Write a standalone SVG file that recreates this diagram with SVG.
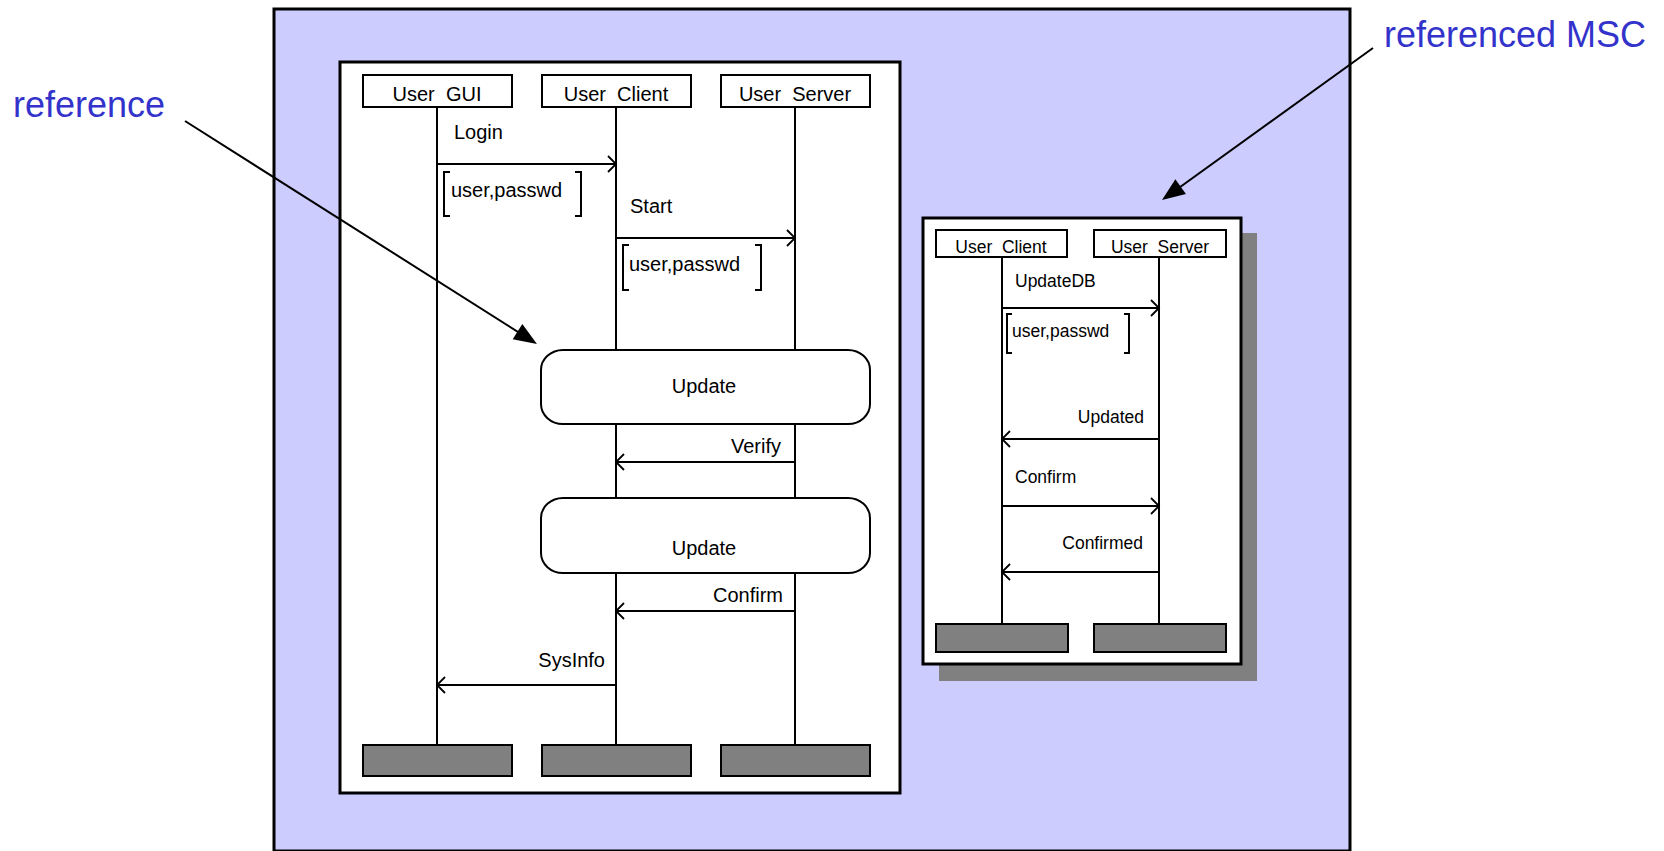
<svg xmlns="http://www.w3.org/2000/svg" width="1664" height="851" viewBox="0 0 1664 851">
<style>
.frame{fill:#fff;stroke:#000;stroke-width:3}
.head{fill:#fff;stroke:#000;stroke-width:2}
.end{fill:#808080;stroke:#000;stroke-width:2}
.life{stroke:#000;stroke-width:2;fill:none}
.msg{stroke:#000;stroke-width:2;fill:none;marker-end:url(#open)}
.br{stroke:#000;stroke-width:2;fill:none}
.t{font-family:"Liberation Sans",Arial,sans-serif;font-size:20px;fill:#000}
.ts{font-family:"Liberation Sans",Arial,sans-serif;font-size:17.5px;fill:#000}
.hd{white-space:pre}
.lbl{font-family:"Liberation Sans",Arial,sans-serif;font-size:36px;fill:#3333CC}
.ptr{stroke:#000;stroke-width:2;fill:none;marker-end:url(#solid)}
</style>
<defs>
<marker id="open" markerUnits="userSpaceOnUse" markerWidth="20" markerHeight="20" viewBox="-10 -10 20 20" refX="0" refY="0" orient="auto" overflow="visible">
<path d="M-8,-8 L0,0 L-8,8" fill="none" stroke="#000" stroke-width="1.8"/>
</marker>
<marker id="solid" markerUnits="userSpaceOnUse" markerWidth="40" markerHeight="40" viewBox="-20 -20 40 40" refX="0" refY="0" orient="auto" overflow="visible">
<path d="M10,0 L-13,-9 L-13,9 Z" fill="#000"/>
</marker>
</defs>
<g id="background">
<rect x="274" y="9" width="1076" height="842" fill="#CCCCFF" stroke="#000" stroke-width="3"/>
</g>
<g id="msc-main">
<rect class="frame" x="340" y="62" width="560" height="731"/>
<g id="inst-gui">
<rect class="head" x="363" y="75" width="149" height="32"/>
<text class="t hd" x="437" y="101" text-anchor="middle" xml:space="preserve">User  GUI</text>
<line class="life" x1="437" y1="107" x2="437" y2="745"/>
<rect class="end" x="363" y="745" width="149" height="31"/>
</g>
<g id="inst-client">
<rect class="head" x="542" y="75" width="149" height="32"/>
<text class="t hd" x="616" y="101" text-anchor="middle" xml:space="preserve">User  Client</text>
<path class="life" d="M616,107 V350 M616,424 V498 M616,573 V745"/>
<rect class="end" x="542" y="745" width="149" height="31"/>
</g>
<g id="inst-server">
<rect class="head" x="721" y="75" width="149" height="32"/>
<text class="t hd" x="795" y="101" text-anchor="middle" xml:space="preserve">User  Server</text>
<path class="life" d="M795,107 V350 M795,424 V498 M795,573 V745"/>
<rect class="end" x="721" y="745" width="149" height="31"/>
</g>
<g id="ref-update-1">
<rect class="head" x="541" y="350" width="329" height="74" rx="22" ry="20"/>
<text class="t" x="704" y="393" text-anchor="middle">Update</text>
</g>
<g id="ref-update-2">
<rect class="head" x="541" y="498" width="329" height="75" rx="22" ry="20"/>
<text class="t" x="704" y="555" text-anchor="middle">Update</text>
</g>
<g id="main-messages">
<text class="t" x="454" y="139">Login</text>
<line class="msg" x1="437" y1="164" x2="616" y2="164"/>
<path class="br" d="M450,172 H444 V216 H450 M575,172 H581 V216 H575"/>
<text class="t" x="451" y="197">user,passwd</text>
<text class="t" x="630" y="213">Start</text>
<line class="msg" x1="616" y1="238" x2="795" y2="238"/>
<path class="br" d="M629,245 H623 V290 H629 M755,245 H761 V290 H755"/>
<text class="t" x="629" y="271">user,passwd</text>
<text class="t" x="781" y="453" text-anchor="end">Verify</text>
<line class="msg" x1="795" y1="462" x2="616" y2="462"/>
<text class="t" x="783" y="602" text-anchor="end">Confirm</text>
<line class="msg" x1="795" y1="611" x2="616" y2="611"/>
<text class="t" x="605" y="667" text-anchor="end">SysInfo</text>
<line class="msg" x1="616" y1="685" x2="437" y2="685"/>
</g>
</g>
<g id="msc-referenced">
<rect x="939" y="233" width="318" height="448" fill="#808080"/>
<rect class="frame" x="923" y="218" width="318" height="446"/>
<g id="ref-inst-client">
<rect class="head" x="936" y="230" width="131" height="27"/>
<text class="ts hd" x="1001" y="253" text-anchor="middle" xml:space="preserve">User  Client</text>
<line class="life" x1="1002" y1="257" x2="1002" y2="624"/>
<rect class="end" x="936" y="624" width="132" height="28"/>
</g>
<g id="ref-inst-server">
<rect class="head" x="1094" y="230" width="132" height="27"/>
<text class="ts hd" x="1160" y="253" text-anchor="middle" xml:space="preserve">User  Server</text>
<line class="life" x1="1159" y1="257" x2="1159" y2="624"/>
<rect class="end" x="1094" y="624" width="132" height="28"/>
</g>
<g id="ref-messages">
<text class="ts" x="1015" y="287">UpdateDB</text>
<line class="msg" x1="1002" y1="308" x2="1159" y2="308"/>
<path class="br" d="M1012,314 H1007 V353 H1012 M1124,314 H1129 V353 H1124"/>
<text class="ts" x="1012" y="337">user,passwd</text>
<text class="ts" x="1144" y="423" text-anchor="end">Updated</text>
<line class="msg" x1="1159" y1="439" x2="1002" y2="439"/>
<text class="ts" x="1015" y="483">Confirm</text>
<line class="msg" x1="1002" y1="506" x2="1159" y2="506"/>
<text class="ts" x="1143" y="549" text-anchor="end">Confirmed</text>
<line class="msg" x1="1159" y1="572" x2="1002" y2="572"/>
</g>
</g>
<g id="annotation-reference">
<text class="lbl" x="13" y="117">reference</text>
</g>
<g id="annotation-referenced">
<text class="lbl" x="1384" y="47">referenced MSC</text>
</g>
<g id="connectors">
<line class="ptr" x1="185" y1="121" x2="528.5" y2="338.6"/>
<line class="ptr" x1="1373" y1="48" x2="1170.1" y2="194.2"/>
</g>
</svg>
